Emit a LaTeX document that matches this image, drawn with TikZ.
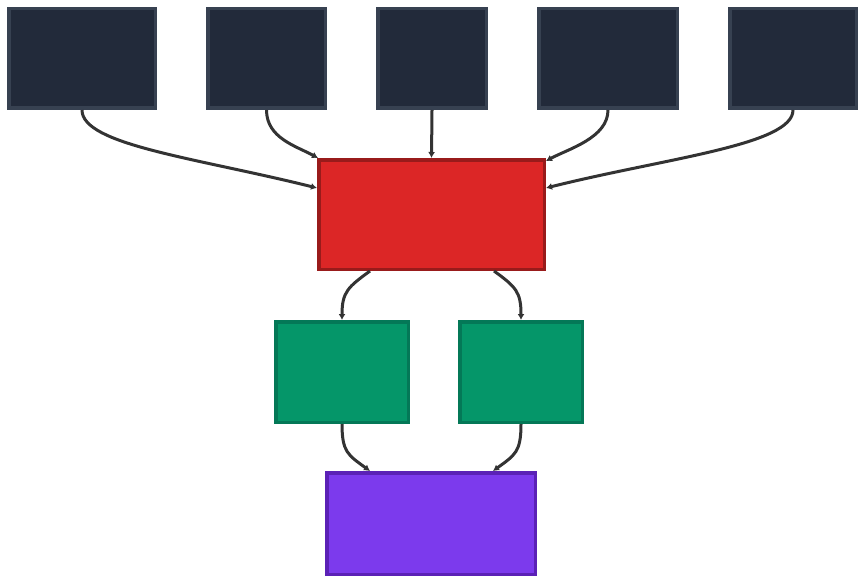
\documentclass[tikz,border=0pt]{standalone}
\usepackage{tikz}
\usetikzlibrary{arrows.meta}
\definecolor{slatefill}{HTML}{222A3A}
\definecolor{slateline}{HTML}{374151}
\definecolor{hubfill}{HTML}{DC2626}
\definecolor{hubline}{HTML}{991B1B}
\definecolor{midfill}{HTML}{059669}
\definecolor{midline}{HTML}{047857}
\definecolor{sinkfill}{HTML}{7C3AED}
\definecolor{sinkline}{HTML}{5B21B6}
\definecolor{linkgray}{HTML}{333333}

\begin{document}
\begin{tikzpicture}[x=1pt,y=-1pt,
    box/.style={rectangle,line width=3.5pt,inner sep=0pt},
    source/.style={box,fill=slatefill,draw=slateline,minimum height=99.5pt},
    hub/.style={box,fill=hubfill,draw=hubline},
    branch/.style={box,fill=midfill,draw=midline,minimum height=100.5pt},
    sink/.style={box,fill=sinkfill,draw=sinkline},
    link/.style={line width=3pt,draw=linkgray,-{Latex[length=6pt,width=7pt]}}]
            \useasboundingbox (0,0) rectangle (866,583);
            \node[source,minimum width=146.5pt] (srcA) at (82,58.5) {};
            \node[source,minimum width=117.5pt] (srcB) at (266.5,58.5) {};
            \node[source,minimum width=108.5pt] (srcC) at (432,58.5) {};
            \node[source,minimum width=138.5pt] (srcD) at (608,58.5) {};
            \node[source,minimum width=126.5pt] (srcE) at (793,58.5) {};
            \node[hub,minimum width=225.5pt,minimum height=109.5pt]
                (hub) at (431.5,214.5) {};
            \node[branch,minimum width=132.5pt] (left) at (342,372) {};
            \node[branch,minimum width=122.5pt] (right) at (521,372) {};
            \node[sink,minimum width=208.5pt,minimum height=101.5pt]
                (sink) at (431,523.5) {};
            \draw[link] (srcA.south) .. controls +(0,35) and +(-120,-30)
                .. ([yshift=26.5pt]hub.west);
            \draw[link] (srcB.south) .. controls +(0,28) and +(-22,-12)
                .. ([xshift=1pt]hub.north west);
            \draw[link] (srcC.south) -- (hub.north);
            \draw[link] (srcD.south) .. controls +(0,28) and +(22,-12)
                .. ([yshift=-3pt]hub.north east);
            \draw[link] (srcE.south) .. controls +(0,35) and +(120,-30)
                .. ([yshift=26.5pt]hub.east);
            \draw[link] ([xshift=-61.5pt]hub.south) .. controls +(-22,16) and +(0,-28)
                .. (left.north);
            \draw[link] ([xshift=62.5pt]hub.south) .. controls +(22,16) and +(0,-28)
                .. (right.north);
            \draw[link] (left.south) .. controls +(0,28) and +(-22,-16)
                .. ([xshift=-61pt]sink.north);
            \draw[link] (right.south) .. controls +(0,28) and +(22,-16)
                .. ([xshift=62pt]sink.north);
        \end{tikzpicture}
\end{document}
